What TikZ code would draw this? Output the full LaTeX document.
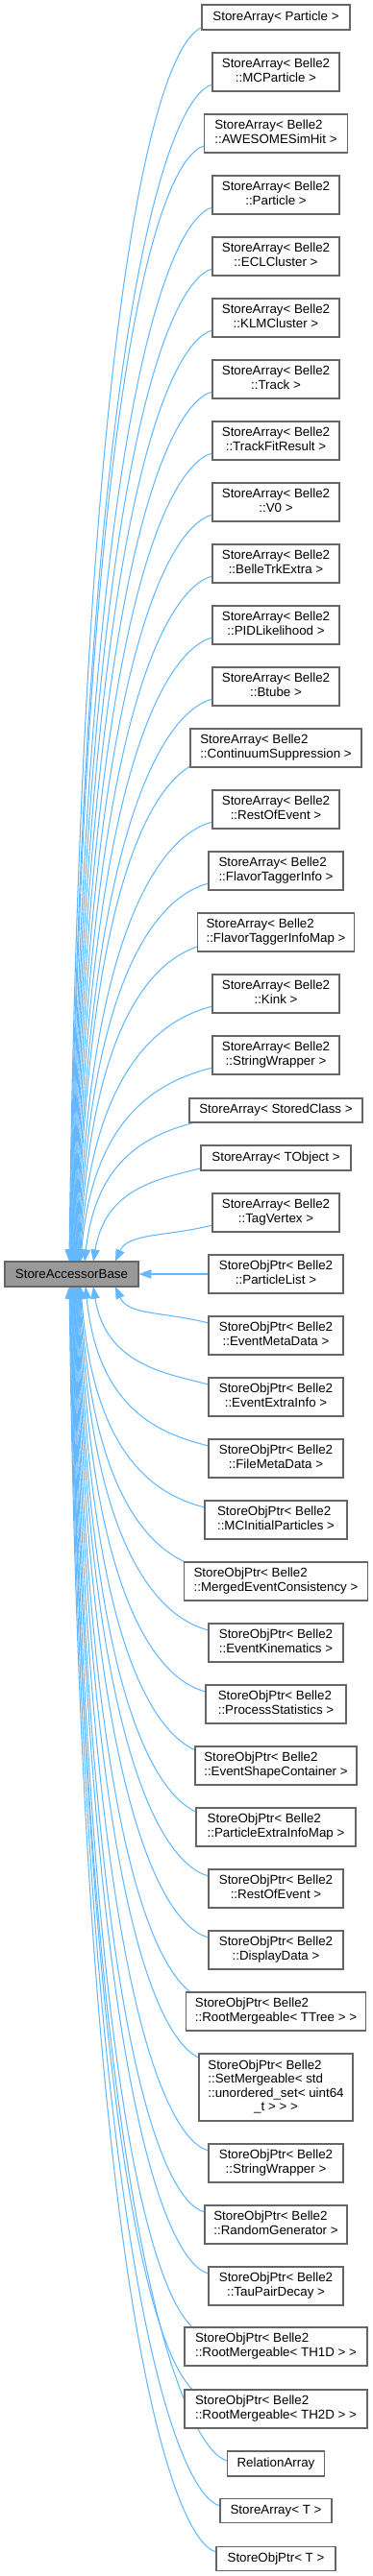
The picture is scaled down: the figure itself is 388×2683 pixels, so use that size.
\documentclass[tikz,border=0pt]{standalone}
\usepackage{fontspec}
\setmainfont{Liberation Sans}
\usetikzlibrary{arrows.meta,backgrounds}

\definecolor{edgeblue}{HTML}{63B8FF}
\definecolor{boxgray}{HTML}{666666}
\definecolor{basegray}{HTML}{999999}

\newcommand\pxu{0.75pt}
\newcommand\lbl[2]{\begin{tabular}{@{}l@{}}#1\\\multicolumn{1}{@{}c@{}}{#2}\end{tabular}}

\tikzset{
    classbox/.style={draw=boxgray, fill=white, line width=0.9pt, inner sep=0pt,
        font=\fontsize{10pt}{10.75pt}\selectfont},
    basebox/.style={classbox, fill=basegray},
    inheritedge/.style={draw=edgeblue, line width=0.8pt,
        arrows={Triangle[length=9.5pt,width=7pt]-}}
}

\begin{document}
\begin{tikzpicture}[x=\pxu, y=-\pxu]
    \useasboundingbox (0,0) rectangle (388,2683);

    % Basisklasse
    \node[basebox, minimum width=139*\pxu, minimum height=26*\pxu] (accbase) at (74.5,1327) {StoreAccessorBase};

    % direkt daneben
    \node[classbox, minimum width=140*\pxu, minimum height=40*\pxu] (derived22) at (287,1327) {\lbl{StoreObjPtr< Belle2}{::ParticleList >}};
    \begin{pgfonlayer}{background}
        \draw[inheritedge] (accbase.east) -- (derived22.west);
    \end{pgfonlayer}

    % abgeleitete Klassen: Nr/y/Breite/Hoehe/Pfeil-x/Eintritt/Text
    \foreach \n/\yc/\w/\h/\sx/\oy/\txt in {
        1/18/154/26/72/10/{StoreArray< Particle >},
        2/75/132/40/72.7/13/{\lbl{StoreArray< Belle2}{::MCParticle >}},
        3/139/149/40/73.4/13/{\lbl{StoreArray< Belle2}{::AWESOMESimHit >}},
        4/203/132/40/74.1/13/{\lbl{StoreArray< Belle2}{::Particle >}},
        5/267/132/40/74.8/13/{\lbl{StoreArray< Belle2}{::ECLCluster >}},
        6/331/132/40/75.5/13/{\lbl{StoreArray< Belle2}{::KLMCluster >}},
        7/395/132/40/76.2/13/{\lbl{StoreArray< Belle2}{::Track >}},
        8/459/132/40/76.9/13/{\lbl{StoreArray< Belle2}{::TrackFitResult >}},
        9/523/132/40/77.6/13/{\lbl{StoreArray< Belle2}{::V0 >}},
        10/587/132/40/78.3/13/{\lbl{StoreArray< Belle2}{::BelleTrkExtra >}},
        11/651/132/40/79/13/{\lbl{StoreArray< Belle2}{::PIDLikelihood >}},
        12/715/132/40/79.7/13/{\lbl{StoreArray< Belle2}{::Btube >}},
        13/779/178/40/80.4/13/{\lbl{StoreArray< Belle2}{::ContinuumSuppression >}},
        14/843/132/40/81.1/13/{\lbl{StoreArray< Belle2}{::RestOfEvent >}},
        15/907/140/40/81.8/13/{\lbl{StoreArray< Belle2}{::FlavorTaggerInfo >}},
        16/971/163/40/82.5/13/{\lbl{StoreArray< Belle2}{::FlavorTaggerInfoMap >}},
        17/1035/132/40/83.2/13/{\lbl{StoreArray< Belle2}{::Kink >}},
        18/1099/132/40/83.9/13/{\lbl{StoreArray< Belle2}{::StringWrapper >}},
        19/1156.5/180/25/88/10/{StoreArray< StoredClass >},
        20/1206/156/26/97/10/{StoreArray< TObject >},
        21/1263/132/40/120/13/{\lbl{StoreArray< Belle2}{::TagVertex >}},
        23/1391/140/40/120/-13/{\lbl{StoreObjPtr< Belle2}{::EventMetaData >}},
        24/1455/140/40/97/-13/{\lbl{StoreObjPtr< Belle2}{::EventExtraInfo >}},
        25/1519/140/40/89/-13/{\lbl{StoreObjPtr< Belle2}{::FileMetaData >}},
        26/1583/148/40/84/-13/{\lbl{StoreObjPtr< Belle2}{::MCInitialParticles >}},
        27/1647/191/40/83.3/-13/{\lbl{StoreObjPtr< Belle2}{::MergedEventConsistency >}},
        28/1711/140/40/82.6/-13/{\lbl{StoreObjPtr< Belle2}{::EventKinematics >}},
        29/1775/146/40/81.9/-13/{\lbl{StoreObjPtr< Belle2}{::ProcessStatistics >}},
        30/1839/168/40/81.2/-13/{\lbl{StoreObjPtr< Belle2}{::EventShapeContainer >}},
        31/1903/166/40/80.5/-13/{\lbl{StoreObjPtr< Belle2}{::ParticleExtraInfoMap >}},
        32/1967/140/40/79.8/-13/{\lbl{StoreObjPtr< Belle2}{::RestOfEvent >}},
        33/2031/140/40/79.1/-13/{\lbl{StoreObjPtr< Belle2}{::DisplayData >}},
        34/2095/187/40/78.4/-13/{\lbl{StoreObjPtr< Belle2}{::RootMergeable< TTree > >}},
        35/2174/160/70/77.7/-29/{\begin{tabular}{@{}l@{}}StoreObjPtr< Belle2\\::SetMergeable< std\\::unordered\_set< uint64\\\multicolumn{1}{@{}c@{}}{\_t > > >}\end{tabular}},
        36/2253/140/40/77/-13/{\lbl{StoreObjPtr< Belle2}{::StringWrapper >}},
        37/2317/148/40/76.3/-13/{\lbl{StoreObjPtr< Belle2}{::RandomGenerator >}},
        38/2381/140/40/75.6/-13/{\lbl{StoreObjPtr< Belle2}{::TauPairDecay >}},
        39/2444/190/40/74.9/-13/{\lbl{StoreObjPtr< Belle2}{::RootMergeable< TH1D > >}},
        40/2509/190/40/74.2/-13/{\lbl{StoreObjPtr< Belle2}{::RootMergeable< TH2D > >}},
        41/2566/101/26/73.5/-3/{RelationArray},
        42/2615/116/25/72.8/-5/{StoreArray< T >},
        43/2665/124/25/72.1/-7/{StoreObjPtr< T >}}
    {
        \node[classbox, minimum width=\w*\pxu, minimum height=\h*\pxu] (derived\n) at (287,\yc) {\txt};
        % Kurve zur Basisklasse
        \pgfmathsetmacro\ex{max(-\w/2,-75)}
        \pgfmathsetmacro\sg{ifthenelse(\yc<1327,-1,1)}
        \pgfmathsetmacro\dd{abs(\yc+\oy-1327)-13}
        \pgfmathsetmacro\cy{\sg*0.79*\dd}
        \pgfmathsetmacro\cz{-\sg*12}
        \pgfmathsetmacro\bx{\sx-74.5}
        \pgfmathsetmacro\by{\sg*13}
        \begin{pgfonlayer}{background}
            \draw[inheritedge] ([shift={(\bx,\by)}]accbase.center)
                .. controls +(13,\cy) and +(-47,\cz) .. ([shift={(\ex,\oy)}]derived\n.center);
        \end{pgfonlayer}
    }
\end{tikzpicture}
\end{document}
